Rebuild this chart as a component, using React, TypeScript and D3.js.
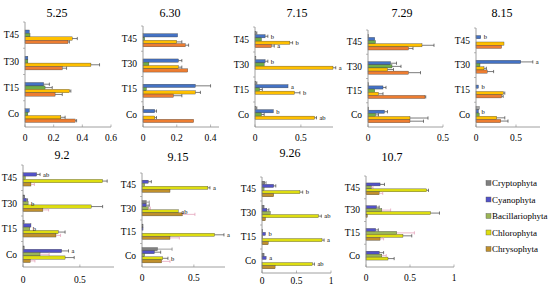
import React from 'react';
import * as d3 from 'd3';

const categories = ['T45', 'T30', 'T15', 'Co'];
const series = ['Cryptophyta', 'Cyanophyta', 'Bacillariophyta', 'Chlorophyta', 'Chrysophyta'];
const dates = ['5.25', '6.30', '7.15', '7.29', '8.15', '9.2', '9.15', '9.26', '10.7'];

// rows = T45, T30, T15, Co ; cols = series order
const val525 = [[0, 0.03, 0.035, 0.33, 0.30], [0, 0.02, 0.02, 0.46, 0.26], [0, 0.13, 0.14, 0.31, 0.21], [0, 0.03, 0.02, 0.25, 0.35]];
const err525 = [[0, 0, 0, 0.035, 0.01], [0, 0, 0, 0.06, 0.03], [0, 0.04, 0.05, 0.01, 0.05], [0, 0, 0, 0.03, 0.01]];
const val630 = [[0, 0.205, 0.01, 0.2, 0.25], [0, 0.21, 0.035, 0.21, 0.265], [0, 0.31, 0.02, 0.31, 0.18], [0.005, 0.07, 0, 0.07, 0.3]];
const err630 = [[0, 0, 0, 0.03, 0.02], [0, 0.02, 0, 0.02, 0], [0, 0.09, 0, 0.03, 0.05], [0, 0.01, 0, 0.01, 0]];
const val715 = [[0.01, 0.11, 0.07, 0.38, 0.18], [0.01, 0.11, 0.1, 0.85, 0], [0.01, 0.36, 0.05, 0.43, 0], [0.01, 0.2, 0.07, 0.65, 0]];
const err715 = [[0.01, 0.03, 0, 0.03, 0.03], [0, 0.03, 0, 0.03, 0], [0.01, 0, 0.03, 0.06, 0], [0.01, 0, 0.03, 0.02, 0]];
const val729 = [[0.005, 0.045, 0.05, 0.36, 0.27], [0, 0.15, 0.16, 0.13, 0.27], [0.005, 0.1, 0.045, 0.07, 0.38], [0.005, 0.11, 0.05, 0.28, 0.28]];
const err729 = [[0, 0, 0, 0.08, 0.03], [0, 0.04, 0.06, 0.04, 0.08], [0, 0.02, 0, 0.03, 0.005], [0, 0.02, 0.02, 0.12, 0.09]];
const val815 = [[0, 0.06, 0, 0.35, 0.32], [0, 0.56, 0.05, 0.1, 0.14], [0, 0.03, 0, 0.34, 0.32], [0.04, 0.03, 0.04, 0.26, 0.31]];
const err815 = [[0, 0, 0, 0, 0], [0, 0.15, 0, 0.03, 0.08], [0, 0, 0, 0.02, 0.02], [0, 0, 0, 0.1, 0.09]];
const val92 = [[0, 0.12, 0.02, 0.7, 0.07], [0.015, 0.03, 0.045, 0.6, 0.175], [0.01, 0.07, 0.06, 0.31, 0.29], [0.01, 0.34, 0.15, 0.37, 0.065]];
const err92 = [[0, 0.03, 0, 0.04, 0.03], [0, 0.01, 0, 0.1, 0.05], [0, 0, 0, 0.06, 0.04], [0, 0.06, 0.08, 0.08, 0.04]];
const val915 = [[0, 0.06, 0.025, 0.635, 0.27], [0.04, 0.04, 0.06, 0.35, 0.39], [0.01, 0.01, 0, 0.7, 0.27], [0.15, 0.12, 0.025, 0.2, 0.19]];
const err915 = [[0, 0.03, 0, 0.02, 0], [0.03, 0.03, 0.02, 0, 0.12], [0, 0, 0, 0.09, 0.09], [0.14, 0.06, 0, 0.05, 0.08]];
const val926 = [[0.04, 0.17, 0.03, 0.55, 0.17], [0.03, 0.07, 0.12, 0.82, 0.05], [0.01, 0.05, 0.01, 0.87, 0.09], [0.03, 0.06, 0, 0.73, 0.19]];
const err926 = [[0.02, 0.03, 0, 0.04, 0], [0, 0.03, 0, 0.04, 0], [0, 0, 0, 0.03, 0], [0, 0, 0, 0.03, 0]];
const val107 = [[0, 0.16, 0.06, 0.69, 0.15], [0, 0.12, 0.18, 0.735, 0.015], [0, 0.11, 0.35, 0.42, 0.16], [0, 0.15, 0.18, 0.25, 0]];
const err107 = [[0, 0.05, 0.02, 0.02, 0.04], [0, 0.03, 0.1, 0.1, 0], [0, 0.03, 0.2, 0.1, 0.04], [0, 0.05, 0.05, 0.07, 0]];

// significance letters: [category index, series index, letter]
const let715: [number, number, string][] = [[0, 1, 'b'], [0, 3, 'b'], [0, 4, 'a'], [1, 1, 'b'], [1, 3, 'a'], [2, 1, 'a'], [2, 3, 'b'], [3, 1, 'b'], [3, 3, 'ab']];
const let815: [number, number, string][] = [[0, 1, 'b'], [1, 1, 'a'], [2, 1, 'b'], [3, 1, 'b']];
const let92: [number, number, string][] = [[0, 1, 'ab'], [1, 2, 'b'], [2, 2, 'b'], [3, 1, 'a']];
const let915: [number, number, string][] = [[0, 3, 'a'], [1, 3, 'ab'], [2, 3, 'a'], [3, 3, 'b']];
const let926: [number, number, string][] = [[0, 3, 'b'], [1, 3, 'ab'], [2, 1, 'b'], [2, 3, 'a'], [3, 1, 'a'], [3, 3, 'ab']];

const topColors = ['#A5A5A5', '#4472C4', '#70AD47', '#FFC000', '#ED7D31'];
const botColors = ['#7F7F7F', '#5252C8', '#9BB556', '#DEDE10', '#C0902C'];
const botErr = ['#777', '#444', '#E39AB5', '#444', '#E39AB5'];

const panels = [
  { vals: val525, errs: err525, lets: [], x0: 25, x1: 111, max: 0.6, ticks: [0, 0.2, 0.4, 0.6], yTop: 22, yAxis: 127, labY: 141, tx: 57, ty: 17, top: true },
  { vals: val630, errs: err630, lets: [], x0: 143, x1: 219, max: 0.45, ticks: [0, 0.2, 0.4], yTop: 26, yAxis: 127, labY: 141, tx: 170, ty: 17, top: true },
  { vals: val715, errs: err715, lets: let715, x0: 255, x1: 333, max: 0.85, ticks: [0, 0.5], yTop: 27, yAxis: 127, labY: 141, tx: 297, ty: 17, top: true },
  { vals: val729, errs: err729, lets: [], x0: 368, x1: 443, max: 0.5, ticks: [0, 0.5], yTop: 30, yAxis: 127, labY: 141, tx: 402, ty: 17, top: true },
  { vals: val815, errs: err815, lets: let815, x0: 476, x1: 540, max: 0.8, ticks: [0, 0.5], yTop: 28, yAxis: 127, labY: 141, tx: 502, ty: 17, top: true },
  { vals: val92, errs: err92, lets: let92, x0: 23, x1: 114, max: 0.8, ticks: [0, 0.5], yTop: 165, yAxis: 267, labY: 283, tx: 62, ty: 159, top: false },
  { vals: val915, errs: err915, lets: let915, x0: 142, x1: 225, max: 0.8, ticks: [0, 0.5], yTop: 173, yAxis: 267, labY: 281, tx: 178, ty: 161, top: false },
  { vals: val926, errs: err926, lets: let926, x0: 262, x1: 331, max: 1, ticks: [0, 0.5, 1], yTop: 177, yAxis: 273, labY: 284, tx: 290, ty: 157, top: false },
  { vals: val107, errs: err107, lets: [], x0: 366, x1: 454, max: 1, ticks: [0, 0.5, 1], yTop: 176, yAxis: 267, labY: 281, tx: 392, ty: 161, top: false },
];

function Panel({ p, title }: { p: any; title: string }) {
  const x = d3.scaleLinear().domain([0, p.max]).range([p.x0, p.x1]);
  const y = d3.scaleBand().domain(categories).range([p.yTop, p.yAxis]).paddingInner(0.35).paddingOuter(0.175);
  const ys = d3.scaleBand().domain(series).range([0, y.bandwidth()]);
  const colors = p.top ? topColors : botColors;
  const fmt = (t: number) => (t === 0 ? '0' : String(t));
  return (
    <g>
      <text x={p.tx} y={p.ty} textAnchor="middle" fontSize={12}>{title}</text>
      {categories.map((c, ci) => (
        <g key={c}>
          <text x={p.x0 - 6} y={(y(c) as number) + y.bandwidth() / 2} dy="0.35em" textAnchor="end" fontSize={9.5}>{c}</text>
          {series.map((s, si) => {
            const v = p.vals[ci][si];
            const e = p.errs[ci][si];
            const by = (y(c) as number) + (ys(s) as number);
            const bh = ys.bandwidth();
            const cy = by + bh / 2;
            if (v <= 0) return null;
            return (
              <g key={s}>
                <rect x={x(0)} y={by} width={x(v) - x(0)} height={bh} fill={colors[si]} stroke="#3a3a3a" strokeWidth={0.35} />
                {e > 0 && (
                  <g stroke={p.top ? '#444' : botErr[si]} strokeWidth={0.7}>
                    <line x1={x(v)} x2={x(v + e)} y1={cy} y2={cy} />
                    <line x1={x(v + e)} x2={x(v + e)} y1={cy - 1.6} y2={cy + 1.6} />
                  </g>
                )}
              </g>
            );
          })}
        </g>
      ))}
      {p.lets.map((l: [number, number, string], i: number) => {
        const c = categories[l[0]];
        const s = series[l[1]];
        const v = p.vals[l[0]][l[1]] + p.errs[l[0]][l[1]];
        const cy = (y(c) as number) + (ys(s) as number) + ys.bandwidth() / 2;
        return (
          <text key={i} x={x(v) + 3} y={cy} dy="0.35em" fontSize={6.5}>{l[2]}</text>
        );
      })}
      <line x1={p.x0} x2={p.x0} y1={p.yTop} y2={p.yAxis} stroke="#888" strokeWidth={0.8} />
      <line x1={p.x0} x2={p.x1} y1={p.yAxis} y2={p.yAxis} stroke="#888" strokeWidth={0.8} />
      {categories.map((c) => (
        <line key={c} x1={p.x0 - 2} x2={p.x0} y1={(y(c) as number) - y.step() * 0.175} y2={(y(c) as number) - y.step() * 0.175} stroke="#888" strokeWidth={0.6} />
      ))}
      {p.ticks.map((t: number) => (
        <g key={t}>
          <line x1={x(t)} x2={x(t)} y1={p.yAxis} y2={p.yAxis - 2.5} stroke="#888" strokeWidth={0.6} />
          <text x={x(t)} y={p.labY} textAnchor="middle" fontSize={9.5}>{fmt(t)}</text>
        </g>
      ))}
    </g>
  );
}

export default function App() {
  const ly = d3.scalePoint().domain(series).range([183, 249]);
  return (
    <svg width={550} height={287} style={{ position: 'absolute', left: 0, top: 0, background: '#fff', fontFamily: "'Liberation Serif', 'DejaVu Serif', serif" }}>
      {panels.map((p, i) => (
        <Panel key={i} p={p} title={dates[i]} />
      ))}
      {series.map((s, i) => (
        <g key={s}>
          <rect x={486} y={(ly(s) as number) - 2.5} width={5} height={5} fill={botColors[i]} stroke="#555" strokeWidth={0.4} />
          <text x={492} y={ly(s) as number} dy="0.35em" fontSize={9}>{s}</text>
        </g>
      ))}
    </svg>
  );
}
